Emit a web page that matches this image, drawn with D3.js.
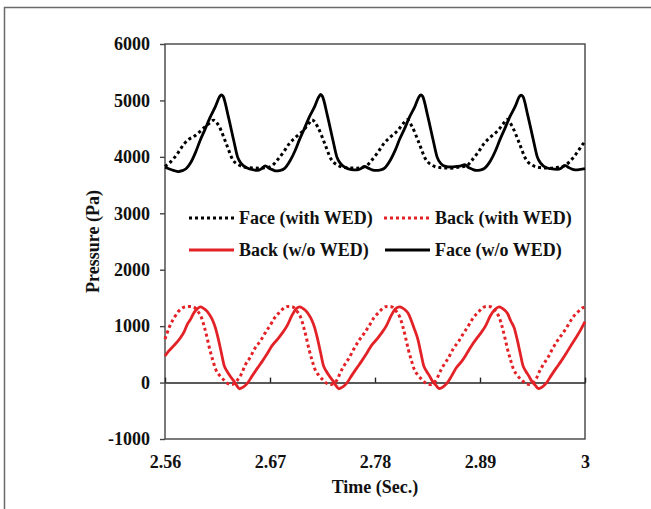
<!DOCTYPE html>
<html>
<head>
<meta charset="utf-8">
<script src="https://cdn.jsdelivr.net/npm/d3@7"></script>
<style>
  html, body { margin: 0; padding: 0; background: #fff; }
  svg { display: block; }
  text { font-family: "Liberation Serif", "Times New Roman", serif; font-weight: bold; fill: #111; }
</style>
</head>
<body>
<svg id="chart" width="651" height="509"></svg>
<script>
// ---------------- DATA (time in s, pressure in Pa) ----------------
const xTicks = [2.56, 2.67, 2.78, 2.89, 3];
const xTickLabels = ["2.56", "2.67", "2.78", "2.89", "3"];
const yTicks = [-1000, 0, 1000, 2000, 3000, 4000, 5000, 6000];

const seriesNames = ["Face (with WED)", "Back (with WED)", "Back (w/o WED)", "Face (w/o WED)"];

// Face (w/o WED) - solid black
const faceWithout = [
  [2.560,3815],[2.564,3790],[2.569,3760],[2.574,3740],[2.578,3755],[2.582,3790],[2.587,3900],[2.592,4080],[2.597,4300],[2.602,4490],
  [2.607,4690],[2.613,4900],[2.617,5060],[2.619,5100],[2.621,5070],[2.626,4740],[2.632,4290],[2.636,4000],[2.640,3880],[2.645,3810],
  [2.650,3780],[2.657,3760],[2.661,3790],[2.665,3840],[2.669,3800],[2.673,3770],
  [2.676,3750],[2.681,3760],[2.685,3790],[2.691,3930],[2.696,4100],[2.701,4310],[2.706,4500],[2.711,4700],[2.717,4900],[2.721,5060],
  [2.723,5105],[2.725,5070],[2.730,4740],[2.736,4290],[2.740,4000],[2.744,3880],[2.749,3810],[2.754,3780],[2.761,3770],[2.765,3790],
  [2.769,3830],[2.773,3800],[2.777,3770],
  [2.781,3760],[2.786,3770],[2.790,3800],[2.796,3940],[2.801,4110],[2.806,4320],[2.811,4500],[2.816,4700],[2.822,4900],[2.826,5060],
  [2.828,5100],[2.830,5070],[2.835,4740],[2.841,4290],[2.845,4000],[2.849,3880],[2.854,3830],[2.859,3820],[2.866,3830],[2.870,3840],
  [2.874,3860],[2.878,3810],[2.882,3780],
  [2.886,3760],[2.891,3770],[2.895,3800],[2.901,3930],[2.906,4100],[2.911,4310],[2.916,4500],[2.921,4700],[2.927,4900],[2.931,5060],
  [2.933,5095],[2.935,5070],[2.940,4740],[2.946,4290],[2.950,4000],[2.954,3880],[2.959,3810],[2.964,3790],[2.971,3780],[2.975,3800],
  [2.979,3850],[2.983,3810],[2.987,3780],[2.992,3770],[3.000,3790]
];

// Face (with WED) - dotted black
const faceWith = [
  [2.560,3830],[2.564,3880],[2.569,3970],[2.574,4080],[2.580,4230],[2.585,4310],[2.591,4370],[2.596,4440],[2.601,4520],[2.606,4590],
  [2.610,4645],[2.611,4650],[2.617,4530],[2.624,4240],[2.631,3950],[2.638,3850],[2.646,3810],[2.658,3800],[2.667,3810],
  [2.672,3840],[2.677,3930],[2.684,4080],[2.690,4230],[2.697,4350],[2.705,4470],[2.711,4600],[2.714,4655],[2.720,4530],[2.727,4250],
  [2.734,3960],[2.741,3850],[2.749,3810],[2.761,3800],[2.768,3820],
  [2.771,3840],[2.776,3930],[2.783,4080],[2.789,4230],[2.796,4350],[2.804,4470],[2.810,4600],[2.8135,4660],[2.819,4530],[2.826,4250],
  [2.833,3960],[2.840,3850],[2.848,3810],[2.860,3800],[2.868,3820],
  [2.876,3840],[2.881,3930],[2.888,4080],[2.894,4230],[2.901,4350],[2.909,4470],[2.915,4600],[2.918,4665],[2.924,4530],[2.931,4250],
  [2.938,3960],[2.945,3850],[2.953,3810],[2.965,3800],[2.972,3815],[2.977,3830],[2.984,3915],[2.991,4060],[2.998,4230],[3.000,4270]
];

// Back (w/o WED) - solid red
const backWithout = [
  [2.560,470],[2.564,560],[2.569,650],[2.576,790],[2.580,900],[2.583,1020],[2.587,1130],[2.590,1230],[2.594,1310],[2.597,1340],
  [2.600,1320],[2.603,1280],[2.606,1220],[2.610,1100],[2.613,960],[2.616,760],[2.619,530],[2.622,300],[2.625,200],[2.628,120],
  [2.632,30],[2.635,-50],[2.638,-110],[2.641,-90],[2.646,-20],[2.651,110],[2.657,260],[2.662,380],[2.667,510],[2.672,650],
  [2.678,770],[2.683,880],[2.688,1010],[2.693,1190],[2.697,1300],
  [2.701,1340],[2.704,1320],[2.707,1280],[2.710,1220],[2.714,1100],[2.717,960],[2.720,760],[2.723,530],[2.726,300],[2.729,200],
  [2.732,120],[2.736,30],[2.739,-50],[2.742,-110],[2.745,-90],[2.750,-20],[2.755,110],[2.761,260],[2.766,380],[2.771,510],
  [2.776,650],[2.782,770],[2.787,880],[2.792,1010],[2.797,1190],[2.801,1300],
  [2.8055,1340],[2.809,1320],[2.812,1280],[2.815,1220],[2.818,1100],[2.821,960],[2.825,760],[2.828,530],[2.831,300],[2.834,200],
  [2.837,120],[2.840,30],[2.844,-50],[2.847,-105],[2.850,-90],[2.855,-20],[2.860,110],[2.865,260],[2.871,380],[2.876,510],
  [2.881,650],[2.886,770],[2.891,880],[2.896,1010],[2.901,1190],[2.906,1300],
  [2.910,1340],[2.913,1320],[2.916,1280],[2.919,1220],[2.922,1100],[2.926,960],[2.929,760],[2.932,530],[2.935,300],[2.938,200],
  [2.941,120],[2.944,30],[2.948,-50],[2.951,-105],[2.954,-90],[2.959,-20],[2.964,110],[2.970,260],[2.975,380],[2.980,510],
  [2.985,650],[2.990,780],[2.995,920],[3.000,1080]
];

// Back (with WED) - dotted red
const backWith = [
  [2.560,770],[2.565,1000],[2.570,1160],[2.574,1260],[2.578,1320],[2.582,1345],[2.585,1350],[2.589,1345],[2.591,1330],[2.594,1270],
  [2.598,1160],[2.601,1000],[2.604,800],[2.607,580],[2.610,400],[2.613,240],[2.617,130],[2.622,40],[2.626,-20],[2.630,-35],
  [2.633,-10],[2.637,70],
  [2.640,150],[2.644,310],[2.649,440],[2.654,600],[2.660,740],[2.665,880],[2.670,1010],[2.675,1150],[2.681,1260],[2.685,1330],
  [2.689,1350],[2.693,1345],[2.695,1330],[2.698,1270],[2.702,1160],[2.705,1000],[2.708,800],[2.711,580],[2.714,400],[2.717,240],
  [2.721,130],[2.726,40],[2.730,-20],[2.734,-35],[2.737,-10],[2.741,70],
  [2.743,150],[2.748,310],[2.753,440],[2.758,600],[2.763,740],[2.769,880],[2.774,1010],[2.779,1150],[2.785,1260],[2.789,1330],
  [2.793,1350],[2.797,1345],[2.799,1330],[2.802,1270],[2.806,1160],[2.809,1000],[2.812,800],[2.815,580],[2.818,400],[2.821,240],
  [2.825,130],[2.830,40],[2.834,-20],[2.838,-35],[2.841,-10],[2.845,70],
  [2.847,150],[2.852,310],[2.857,440],[2.862,600],[2.868,740],[2.873,880],[2.878,1010],[2.883,1150],[2.889,1260],[2.893,1330],
  [2.897,1350],[2.901,1345],[2.903,1330],[2.906,1270],[2.910,1160],[2.913,1000],[2.916,800],[2.919,580],[2.922,400],[2.925,240],
  [2.929,130],[2.934,40],[2.938,-20],[2.942,-35],[2.945,-10],[2.949,70],
  [2.951,150],[2.956,310],[2.961,440],[2.966,600],[2.971,740],[2.977,880],[2.982,1010],[2.987,1150],[2.993,1260],[2.997,1320],[3.000,1340]
];

// ---------------- CHART ----------------
const W = 651, H = 509;
const plot = { left: 165, right: 585, top: 44, bottom: 439 };
const RED = "#e32227", BLACK = "#000";

const svg = d3.select("#chart");

// outer figure border (left and top)
svg.append("path")
  .attr("d", `M4.5,${H} V7.5 H${W}`)
  .attr("fill", "none").attr("stroke", "#6a6a6a").attr("stroke-width", 1.5);

const x = d3.scaleLinear().domain([2.56, 3]).range([plot.left, plot.right]);
const y = d3.scaleLinear().domain([-1000, 6000]).range([plot.bottom, plot.top]);

// plot frame
svg.append("rect")
  .attr("x", plot.left).attr("y", plot.top)
  .attr("width", plot.right - plot.left).attr("height", plot.bottom - plot.top)
  .attr("fill", "none").attr("stroke", "#444").attr("stroke-width", 1.4);

// y axis
const yAxis = svg.append("g")
  .attr("transform", `translate(${plot.left},0)`)
  .call(d3.axisLeft(y).tickValues(yTicks).tickSize(5).tickPadding(10).tickFormat(d => String(d)));
yAxis.select(".domain").remove();
yAxis.selectAll(".tick line").attr("stroke", "#444").attr("stroke-width", 1.4);
yAxis.selectAll("text").attr("font-size", 18).attr("fill", "#111")
  .style("font-family", '"Liberation Serif", serif').style("font-weight", "bold");

// zero line with upward ticks
const zeroAxis = svg.append("g")
  .attr("transform", `translate(0,${y(0)})`)
  .call(d3.axisTop(x).tickValues(xTicks).tickSize(5).tickSizeOuter(0).tickFormat(""));
zeroAxis.select(".domain").attr("stroke", "#222").attr("stroke-width", 1.6);
zeroAxis.selectAll(".tick line").attr("stroke", "#222").attr("stroke-width", 1.4);

// x labels at bottom
const xAxis = svg.append("g")
  .attr("transform", `translate(0,${plot.bottom})`)
  .call(d3.axisBottom(x).tickValues(xTicks).tickSize(0).tickPadding(16)
    .tickFormat((d, i) => xTickLabels[i]));
xAxis.select(".domain").remove();
xAxis.selectAll("text").attr("font-size", 18).attr("fill", "#111")
  .style("font-family", '"Liberation Serif", serif').style("font-weight", "bold");

// axis titles
svg.append("text")
  .attr("x", (plot.left + plot.right) / 2).attr("y", 493)
  .attr("text-anchor", "middle").attr("font-size", 18)
  .text("Time (Sec.)");
svg.append("text")
  .attr("transform", `translate(99,${(plot.top + plot.bottom) / 2}) rotate(-90)`)
  .attr("text-anchor", "middle").attr("font-size", 18)
  .text("Pressure (Pa)");

// lines
const line = d3.line().x(d => x(d[0])).y(d => y(d[1])).curve(d3.curveMonotoneX);
const g = svg.append("g");

const styles = {
  "Face (with WED)": { data: faceWith, color: BLACK, dash: "3 3", width: 3 },
  "Back (with WED)": { data: backWith, color: RED, dash: "3 3", width: 3 },
  "Back (w/o WED)": { data: backWithout, color: RED, dash: null, width: 2.8 },
  "Face (w/o WED)": { data: faceWithout, color: BLACK, dash: null, width: 2.8 }
};

seriesNames.forEach(name => {
  const s = styles[name];
  g.append("path")
    .datum(s.data)
    .attr("d", line)
    .attr("fill", "none")
    .attr("stroke", s.color)
    .attr("stroke-width", s.width)
    .attr("stroke-linejoin", "round")
    .attr("stroke-dasharray", s.dash);
});

// legend
const legendItems = [
  { name: "Face (with WED)", lx: 189, ly: 218, tx: 239, ty: 223.5 },
  { name: "Back (with WED)", lx: 384, ly: 218, tx: 435, ty: 223.5 },
  { name: "Back (w/o WED)", lx: 189, ly: 250, tx: 239, ty: 255.5 },
  { name: "Face (w/o WED)", lx: 385, ly: 250, tx: 435, ty: 255.5 }
];
const leg = svg.append("g");
legendItems.forEach(it => {
  const s = styles[it.name];
  leg.append("line")
    .attr("x1", it.lx).attr("x2", it.lx + 45)
    .attr("y1", it.ly).attr("y2", it.ly)
    .attr("stroke", s.color).attr("stroke-width", s.width)
    .attr("stroke-dasharray", s.dash);
  leg.append("text")
    .attr("x", it.tx).attr("y", it.ty)
    .attr("font-size", 18)
    .text(it.name);
});
</script>
</body>
</html>
